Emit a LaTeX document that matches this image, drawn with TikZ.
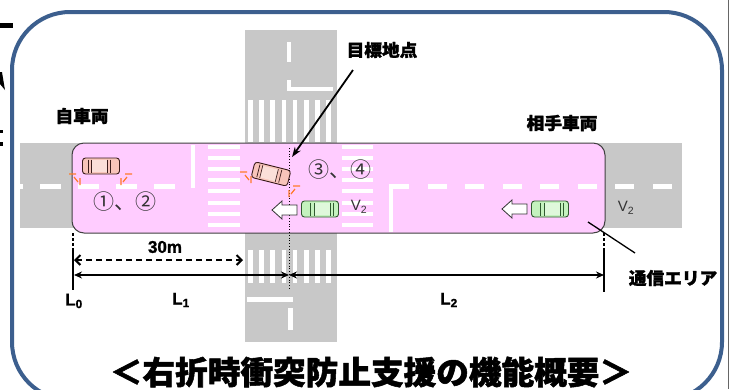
\documentclass[tikz,border=0pt]{standalone}
\usepackage{fontspec}
\newfontfamily\jp{Noto Sans CJK JP}
\newfontfamily\jpheavy{Noto Sans CJK JP}[BoldFeatures={FakeBold=1.6}]
\newfontfamily\ar{Liberation Sans}
\newfontfamily\arheavy{Liberation Sans}[BoldFeatures={FakeBold=1.2}]
\usetikzlibrary{arrows.meta}

\definecolor{frameblue}{HTML}{3C5F8E}
\definecolor{road}{HTML}{C8C8C8}
\definecolor{zone}{HTML}{FFCCFF}
\definecolor{ownfill}{HTML}{F8C4BA}
\definecolor{ownline}{HTML}{3A1C1C}
\definecolor{othfill}{HTML}{C4F2BE}
\definecolor{othline}{HTML}{2F5A2F}
\definecolor{signal}{HTML}{FF7A2A}
\definecolor{ink}{HTML}{333333}

\tikzset{
  paint/.style={fill=white, draw=none},
  jplabel/.style={font=\jpheavy\bfseries\fontsize{17}{17}\selectfont, inner sep=0pt, xscale=1.04},
  numlabel/.style={font=\jp\fontsize{21}{21}\selectfont, text=ink, inner sep=0pt},
  speed/.style={font=\ar\fontsize{15}{15}\selectfont, text=ink, inner sep=0pt},
  dimlabel/.style={font=\arheavy\bfseries\fontsize{17}{17}\selectfont, inner sep=0pt},
  dimline/.style={line width=1.4pt, {Stealth[length=8pt,width=7pt]}-{Stealth[length=8pt,width=7pt]}},
  tick/.style={line width=1.5pt},
  pics/vehicle/.style 2 args={code={
    \draw[fill=#1, draw=#2, line width=0.9pt, rounded corners=3pt] (-18.5,-8) rectangle (18.5,8);
    \fill[#1!55!white] (-10,-6) rectangle (6,6);
    \draw[#2, line width=0.7pt] (-13,-6.5) -- (-13,6.5) (-10,-6.5) -- (-10,6.5)
      (6,-6.5) -- (6,6.5) (9.5,-6.5) -- (9.5,6.5);
  }},
  pics/blink/.style={code={
    \draw[signal, line width=1.2pt] (-11,0) -- (-4,0) (-6,3) -- (-2,8) (0,4) -- (0,11);
  }},
  pics/leftarrow/.style={code={
    \draw[fill=white, draw=ink, line width=0.8pt] (0,0) -- (10,-9) -- (10,-5) -- (25,-5)
      -- (25,5) -- (10,5) -- (10,9) -- cycle;
  }},
}

\begin{document}
\begin{tikzpicture}[x=1pt, y=-1pt]
\fill[white] (0,0) rectangle (731,389);
\useasboundingbox (0,0) rectangle (731,389);

% roads
\fill[road] (20,143) rectangle (682,228);
\fill[road] (245,30) rectangle (337,342);

% communication zone
\draw[fill=zone, draw=black!75, line width=1pt, rounded corners=12pt] (72,143) rectangle (605,233);

% centre line and stop lines of the main road
\fill[paint] (20,184) rectangle (23,189);
\foreach \x in {40,78,116,154} \fill[paint] (\x,184) rectangle ++(21,5);
\fill[paint] (191,145) rectangle (195,188);
\foreach \x in {390,428,465,503,540,578,615,653} \fill[paint] (\x,184) rectangle ++(19,5);
\fill[paint] (389,184) rectangle (393,232);

% crosswalks
\foreach \k in {0,...,7} {
  \fill[paint] (208,{145+11.1*\k}) rectangle ++(32,4);
  \fill[paint] (342,{145+11.1*\k}) rectangle ++(31,4);
  \fill[paint] ({248+11.2*\k},100) rectangle ++(4.5,42);
  \fill[paint] ({248+11.2*\k},250) rectangle ++(4.5,33);
}

% side road markings
\fill[paint] (287,42) rectangle (291,62);
\fill[paint] (287,80) rectangle (291,91);
\fill[paint] (287,87) rectangle (333,91);
\fill[paint] (247,297) rectangle (293,302);
\fill[paint] (288,308) rectangle (293,330);

% target point line
\coordinate (tgtTop) at (289,148);
\coordinate (tgtBot) at (289,290);
\draw[dotted, line width=0.8pt] (tgtTop) -- (tgtBot);

% own vehicle, waiting and turning
\pic at (101,166) {vehicle={ownfill}{ownline}};
\pic at (80,174) {blink};
\pic[xscale=-1] at (121,174) {blink};
\pic[rotate=-14] at (271,174) {vehicle={ownfill}{ownline}};
\pic at (251,172) {blink};
\pic[xscale=-1] at (289,186) {blink};

% oncoming vehicles
\pic at (272,210) {leftarrow};
\pic[xscale=-1] at (320,209) {vehicle={othfill}{othline}};
\pic at (502,209) {leftarrow};
\pic[xscale=-1] at (550,209) {vehicle={othfill}{othline}};

% labels
\node[jplabel] (own) at (82,116) {自車両};
\node[jplabel] (other) at (562,123) {相手車両};
\node[jplabel] (target) at (382,50) {目標地点};
\node[jplabel] (comm) at (673,278) {通信エリア};
\node[numlabel] (n12) at (125,202) {①、②};
\node[numlabel] (n34) at (340,170) {③、④};
\node[speed] (va) at (359,207) {V\textsubscript{2}};
\node[speed] (vb) at (626,208) {V\textsubscript{2}};

% pointer to the target point
\coordinate (tgtFrom) at (353,70);
\coordinate (tgtTo) at (292,157);
\draw[line width=1.8pt, -{Stealth[length=10pt,width=7pt]}] (tgtFrom) -- (tgtTo);

% pointer to the zone edge
\coordinate (zoneA) at (588,222);
\coordinate (zoneB) at (635,253);
\draw[line width=1.3pt] (zoneA) -- (zoneB);

% dimensions
\coordinate (t0a) at (73,233);
\coordinate (t0b) at (73,250);
\coordinate (t0c) at (73,290);
\coordinate (t2a) at (604,233);
\coordinate (t2b) at (604,250);
\coordinate (t2c) at (604,292);
\draw[tick, dash pattern=on 3pt off 2pt] (t0a) -- (t0b);
\draw[tick] (t0b) -- (t0c);
\draw[tick, dash pattern=on 3pt off 2pt] (t2a) -- (t2b);
\draw[tick] (t2b) -- (t2c);

\coordinate (d30a) at (74,260);
\coordinate (d30b) at (243,260);
\draw[line width=2pt, dash pattern=on 6pt off 4pt,
  {Straight Barb[length=5pt,width=10pt]}-{Straight Barb[length=5pt,width=10pt]}] (d30a) -- (d30b);

\coordinate (p0) at (74,275);
\coordinate (pt) at (289,275);
\coordinate (p2) at (604,275);
\draw[dimline] (p0) -- (pt);
\draw[dimline] (pt) -- (p2);

\node[dimlabel] (m30) at (165,247) {30m};
\node[dimlabel] (l0) at (74,301) {L\textsubscript{0}};
\node[dimlabel] (l1) at (181,300) {L\textsubscript{1}};
\node[dimlabel] (l2) at (449,300) {L\textsubscript{2}};

% title
\node[font=\jpheavy\bfseries\fontsize{32}{32}\selectfont, inner sep=0pt, xscale=1.02] (title) at (371,372)
  {＜右折時衝突防止支援の機能概要＞};

% frame
\draw[frameblue, line width=4pt, rounded corners=58pt] (12,12) rectangle (722,400);

% page edge
\draw[black!60, line width=0.8pt] (728,0) -- (728,389);
\fill (0,23) rectangle (13,28);
\fill (0,72) -- (2,72) -- (5,90) -- (0,84) -- cycle;
\fill (0,130) rectangle (3,133);
\fill (0,142) rectangle (3,146);
\end{tikzpicture}
\end{document}
